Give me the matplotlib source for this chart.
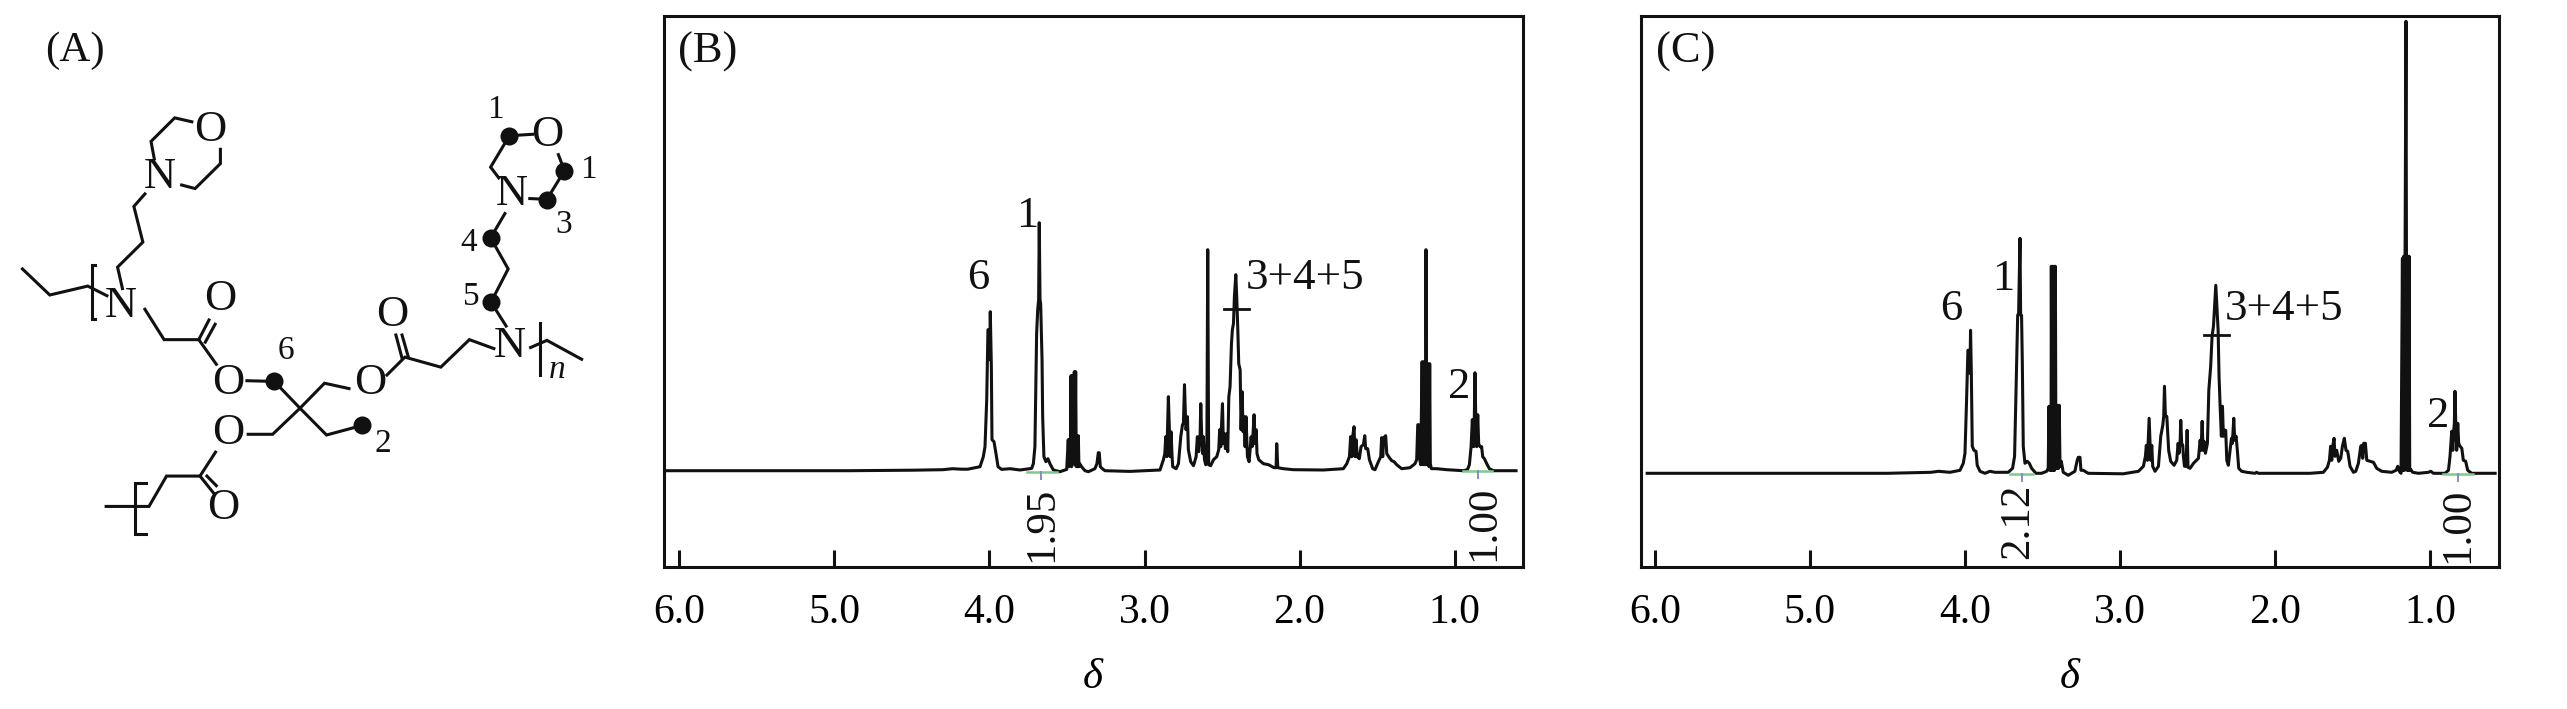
import matplotlib
matplotlib.use("Agg")
import matplotlib.pyplot as plt

plt.rcParams["font.family"] = ["Liberation Serif", "DejaVu Serif"]

W, H = 2567, 709
INK = "#111111"

# ---- spectrum (B): chemical shift and intensity (baseline = 0)
ppm_b = [6.08, 4.9, 4.5, 4.3, 4.24, 4.18, 4.14, 4.061, 4.040, 4.029, 4.018, 4.010, 4.003, 3.999, 3.995, 3.988,
         3.984, 3.971, 3.958, 3.945, 3.922, 3.868, 3.803, 3.728, 3.717, 3.707, 3.696, 3.689, 3.683, 3.679, 3.674,
         3.670, 3.661, 3.657, 3.649, 3.636, 3.623, 3.610, 3.588, 3.545, 3.502, 3.492, 3.487, 3.483, 3.479, 3.474,
         3.470, 3.466, 3.461, 3.457, 3.453, 3.449, 3.444, 3.440, 3.436, 3.431, 3.427, 3.423, 3.418, 3.406, 3.384,
         3.362, 3.320, 3.307, 3.298, 3.292, 3.285, 3.272, 3.255, 3.094, 2.900, 2.878, 2.869, 2.863, 2.856, 2.852,
         2.846, 2.839, 2.835, 2.829, 2.822, 2.818, 2.796, 2.781, 2.766, 2.755, 2.749, 2.742, 2.736, 2.732, 2.723,
         2.717, 2.702, 2.684, 2.667, 2.659, 2.650, 2.641, 2.637, 2.631, 2.624, 2.620, 2.613, 2.605, 2.598, 2.592,
         2.586, 2.573, 2.555, 2.534, 2.521, 2.515, 2.508, 2.504, 2.497, 2.491, 2.484, 2.478, 2.469, 2.463, 2.456,
         2.448, 2.439, 2.433, 2.426, 2.420, 2.411, 2.405, 2.398, 2.392, 2.383, 2.377, 2.370, 2.364, 2.358, 2.351,
         2.345, 2.336, 2.325, 2.312, 2.306, 2.299, 2.293, 2.287, 2.280, 2.274, 2.263, 2.233, 2.200, 2.164, 2.151,
         2.147, 2.140, 2.104, 2.039, 1.846, 1.717, 1.695, 1.678, 1.670, 1.663, 1.657, 1.648, 1.642, 1.635, 1.627,
         1.614, 1.603, 1.588, 1.579, 1.573, 1.560, 1.549, 1.528, 1.513, 1.491, 1.476, 1.470, 1.463, 1.457, 1.444,
         1.437, 1.420, 1.405, 1.390, 1.373, 1.341, 1.287, 1.255, 1.244, 1.237, 1.231, 1.224, 1.218, 1.209, 1.203,
         1.197, 1.190, 1.186, 1.184, 1.181, 1.177, 1.171, 1.164, 1.160, 1.156, 1.149, 1.115, 1.050, 0.943, 0.917,
         0.904, 0.893, 0.885, 0.876, 0.872, 0.868, 0.863, 0.857, 0.850, 0.844, 0.835, 0.825, 0.818, 0.807, 0.792,
         0.775, 0.749, 0.603]
int_b = [0, 0, 0.5, 1, 2, 1.5, 1.5, 4, 14, 24, 71, 141, 141, 111, 159, 104,
         31, 29, 17, 4, 1.3, 2, 0.7, 2.3, 7, 24, 137, 161, 171, 248, 171,
         167, 111, 54, 14, 9, 12, 7, 0.7, -1, 1.3, 31, 4, 31, 7, 95,
         4, 95, 7, 31, 99, 6, 99, 4, 35, 4, 35, 4, 7, 4, 0,
         -1, 2, 7, 18, 18, 4, 2, 0, -0.7, 0.7, 11, 17, 34, 14, 37,
         74, 39, 14, 39, 14, 4, 2, 7, 34, 46, 47, 86, 56, 41, 54,
         21, 9, 5, 14, 34, 19, 37, 67, 34, 17, 34, 11, 6, 7, 221,
         6, 5, 11, 14, 21, 41, 24, 42, 67, 27, 37, 22, 37, 19, 74,
         84, 127, 141, 147, 174, 196, 174, 141, 107, 101, 41, 79, 39, 54, 24,
         54, 14, 9, 34, 24, 39, 56, 27, 41, 17, 11, 7, 6, 3, 3,
         27, 3, 2, 1, 0.7, 2, 7, 14, 34, 14, 34, 44, 14, 31, 14,
         12, 24, 26, 35, 22, 22, 11, 2, 1, 9, 14, 33, 14, 33, 35,
         17, 13, 10, 9, 6, 2, 3, 7, 11, 46, 46, 11, 6, 109, 6,
         109, 6, 109, 221, 109, 6, 107, 4, 107, 7, 2, 2, 1, 0, 1,
         6, 24, 51, 24, 54, 98, 54, 24, 56, 27, 24, 24, 14, 12, 7,
         2, 0, 0]

# ---- spectrum (C)
ppm_c = [6.05, 4.9, 4.5, 4.22, 4.17, 4.13, 4.097, 4.032, 4.011, 4.000, 3.989, 3.981, 3.972, 3.968, 3.964, 3.959,
         3.953, 3.942, 3.929, 3.921, 3.903, 3.871, 3.839, 3.807, 3.774, 3.721, 3.693, 3.680, 3.667, 3.660, 3.654,
         3.645, 3.641, 3.635, 3.630, 3.624, 3.613, 3.598, 3.585, 3.570, 3.542, 3.506, 3.473, 3.463, 3.458, 3.454,
         3.450, 3.445, 3.443, 3.439, 3.435, 3.430, 3.426, 3.422, 3.417, 3.413, 3.409, 3.404, 3.400, 3.396, 3.392,
         3.387, 3.379, 3.366, 3.334, 3.291, 3.276, 3.269, 3.258, 3.252, 3.237, 3.205, 2.979, 2.881, 2.849, 2.836,
         2.830, 2.823, 2.819, 2.812, 2.806, 2.802, 2.795, 2.789, 2.774, 2.752, 2.737, 2.724, 2.718, 2.713, 2.707,
         2.698, 2.686, 2.673, 2.651, 2.634, 2.625, 2.619, 2.612, 2.608, 2.602, 2.595, 2.591, 2.584, 2.574, 2.567,
         2.561, 2.548, 2.526, 2.494, 2.483, 2.477, 2.470, 2.464, 2.458, 2.449, 2.436, 2.427, 2.415, 2.406, 2.397,
         2.391, 2.382, 2.374, 2.367, 2.361, 2.354, 2.346, 2.339, 2.333, 2.326, 2.318, 2.311, 2.301, 2.290, 2.281,
         2.275, 2.266, 2.260, 2.251, 2.243, 2.234, 2.215, 2.182, 2.129, 2.118, 2.107, 1.774, 1.688, 1.662, 1.649,
         1.641, 1.634, 1.628, 1.619, 1.613, 1.602, 1.589, 1.576, 1.565, 1.553, 1.542, 1.531, 1.516, 1.494, 1.479,
         1.462, 1.447, 1.441, 1.434, 1.428, 1.417, 1.408, 1.387, 1.365, 1.344, 1.312, 1.247, 1.219, 1.208, 1.198,
         1.187, 1.178, 1.174, 1.170, 1.165, 1.161, 1.155, 1.152, 1.148, 1.144, 1.140, 1.135, 1.131, 1.125, 1.112,
         1.075, 1.010, 0.995, 0.978, 0.903, 0.881, 0.871, 0.860, 0.853, 0.847, 0.843, 0.839, 0.834, 0.828, 0.821,
         0.815, 0.806, 0.795, 0.785, 0.770, 0.757, 0.731, 0.580]
int_c = [0, 0, 0, 1, 2, 1.5, 1, 3, 10, 20, 77, 123, 123, 100, 143, 100,
         27, 23, 22, 8, 2, 0, 2, 1, 1, 1, 5, 17, 110, 158, 160,
         235, 158, 158, 110, 27, 10, 12, 10, 5, 0, 0, 2, 5, 67, 3,
         67, 3, 207, 3, 207, 3, 207, 3, 207, 5, 68, 5, 68, 5, 68,
         7, 12, 1, -2, 2, 13, 16, 16, 3, 3, 0, -0.5, 2, 7, 17,
         28, 13, 28, 55, 28, 13, 28, 7, 2, 7, 37, 48, 57, 87, 57,
         57, 23, 12, 8, 13, 30, 20, 32, 53, 30, 28, 17, 7, 7, 43,
         6, 5, 10, 15, 33, 23, 52, 23, 32, 20, 30, 83, 107, 137, 147,
         163, 188, 163, 143, 97, 67, 37, 67, 37, 43, 43, 13, 8, 23, 35,
         30, 55, 33, 37, 23, 5, 2, 1, 0, 1, 0, 0, 1, 6, 13,
         27, 13, 27, 35, 17, 23, 12, 15, 27, 35, 23, 22, 7, 1, 2,
         10, 27, 28, 15, 30, 30, 13, 12, 11, 5, 2, 1, 3, 7, 2,
         0, 215, 3, 217, 3, 217, 452, 217, 3, 217, 3, 217, 3, 4, 1,
         0, 1, 2, 0, 0, 3, 17, 42, 23, 43, 50, 82, 50, 23, 50,
         30, 27, 25, 13, 12, 3, 0, 0]

tick_ppm = [6.0, 5.0, 4.0, 3.0, 2.0, 1.0]
tick_labels = ["6.0", "5.0", "4.0", "3.0", "2.0", "1.0"]


def px_axes(fig, left, top, right, bottom):
    return fig.add_axes([left / W, 1 - bottom / H, (right - left) / W, (bottom - top) / H])


def spectrum(fig, box, xlim, ylim, x, y):
    ax = px_axes(fig, *box)
    ax.plot(x, y, color=INK, lw=2.2, solid_joinstyle="round")
    ax.set_xlim(*xlim)
    ax.set_ylim(*ylim)
    ax.set_xticks(tick_ppm)
    ax.set_xticklabels(tick_labels, fontsize=30)
    ax.set_yticks([])
    ax.tick_params(axis="x", direction="in", length=12, width=2.2, pad=19, color=INK)
    for s in ax.spines.values():
        s.set_linewidth(2.2)
        s.set_color(INK)
    ax.set_xlabel(r"$\delta$", fontsize=31, labelpad=19)
    return ax


fig = plt.figure(figsize=(W / 100, H / 100), dpi=100)
plt.rcParams["mathtext.fontset"] = "custom"
plt.rcParams["mathtext.it"] = "Liberation Serif:italic"
plt.rcParams["mathtext.rm"] = "Liberation Serif"

spectrum(fig, (664, 16, 1522.7, 567), (6.10, 0.56), (-96.3, 454.7), ppm_b, int_b)
spectrum(fig, (1641, 16, 2499, 567), (6.09, 0.555), (-93.7, 457.3), ppm_c, int_c)

# ---- page overlay in pixels: panel letters, peak labels, integrals
page = fig.add_axes([0, 0, 1, 1])
page.set_xlim(0, W)
page.set_ylim(H, 0)
page.axis("off")
page.patch.set_alpha(0)

page_labels = [("(B)", 708, 52), ("(C)", 1686, 52), ("6", 978, 278), ("1", 1027, 216), ("2", 1459, 387),
               ("6", 1951, 309), ("1", 2003, 279), ("2", 2438, 416)]
for s, x, y in page_labels:
    page.text(x, y, s, fontsize=32, ha="center", va="center", color=INK)
page.text(1246, 278, "3+4+5", fontsize=32.5, ha="left", va="center", color=INK)
page.text(2225, 309, "3+4+5", fontsize=32.5, ha="left", va="center", color=INK)

integral_values = [("1.95", 1042, 524), ("1.00", 1484, 523), ("2.12", 2018, 521), ("1.00", 2458, 525)]
for s, x, y in integral_values:
    page.text(x, y, s, fontsize=31, rotation=90, ha="center", va="center", color=INK)

for x0, x1, y in [(1027, 1057, 472), (1463, 1492, 471), (2010, 2033, 474), (2443, 2473, 474)]:
    page.plot([x0, x1], [y, y], color="#7fc98a", lw=1.8, zorder=1)
for x, y in [(1041, 472), (1478, 471), (2022, 474), (2458, 474)]:
    page.plot([x, x], [y, y + 7], color="#8888cc", lw=1.4, zorder=1)
for x0, x1, y in [(1224, 1249, 309), (2204, 2229, 335)]:
    page.plot([x0, x1], [y, y], color=INK, lw=2)

# ---- structure (A): drawn in its own box, 640x560 px on the page
mol = px_axes(fig, 0, 0, 640, 560)
mol.set_xlim(0, 1568)
mol.set_ylim(1560, -8)
mol.axis("off")
mol.patch.set_alpha(0)

bonds = [
    [(470, 333), (428, 322), (370, 388), (378, 437)],
    [(540, 410), (540, 450), (478, 520), (445, 510)],
    [(355, 535), (328, 570), (350, 670), (288, 740), (300, 800)],
    [(55, 745), (122, 818), (215, 793), (262, 820)],
    [(232, 735), (225, 735), (225, 885), (232, 885)],
    [(355, 858), (402, 943), (487, 943), (530, 1012)],
    [(487, 943), (512, 888)],
    [(503, 950), (527, 900)],
    [(605, 1058), (672, 1060), (735, 1135), (800, 1210), (888, 1183)],
    [(855, 1080), (795, 1065), (735, 1135), (668, 1208), (608, 1208)],
    [(948, 1042), (992, 992), (1080, 1020), (1150, 943), (1210, 968)],
    [(985, 995), (970, 930)],
    [(1000, 990), (985, 930)],
    [(1240, 905), (1203, 838), (1245, 745), (1202, 658), (1237, 590)],
    [(1305, 368), (1248, 372), (1202, 460), (1222, 490)],
    [(1368, 425), (1383, 470), (1340, 550), (1298, 548)],
    [(1322, 895), (1322, 1042)],
    [(1300, 965), (1340, 945), (1425, 998)],
    [(528, 1258), (490, 1325), (408, 1325), (365, 1410), (260, 1410)],
    [(490, 1325), (525, 1375)],
    [(507, 1325), (530, 1352)],
    [(358, 1345), (330, 1345), (330, 1488), (358, 1488)],
]
for b in bonds:
    mol.plot([p[0] for p in b], [p[1] for p in b], color=INK, lw=2.2, solid_joinstyle="miter")

dots = [(1247, 372), (1383, 470), (1340, 552), (1202, 658), (1203, 838), (672, 1060), (888, 1183)]
mol.plot([p[0] for p in dots], [p[1] for p in dots], "o", color=INK, ms=13, mew=0)

atoms = [("O", 515, 355), ("N", 392, 488), ("N", 295, 850), ("O", 540, 830), ("O", 560, 1065), ("O", 560, 1205),
         ("O", 908, 1065), ("O", 962, 875), ("N", 1250, 960), ("N", 1255, 535), ("O", 1340, 370), ("O", 548, 1415)]
for s, x, y in atoms:
    mol.text(x, y, s, fontsize=32, ha="center", va="center", color=INK)

positions = [("1", 1215, 298), ("1", 1442, 468), ("3", 1380, 622), ("4", 1148, 672), ("5", 1155, 822),
             ("6", 700, 975), ("2", 938, 1235)]
for s, x, y in positions:
    mol.text(x, y, s, fontsize=24, ha="center", va="center", color=INK)
mol.text(1365, 1028, "n", fontsize=24, style="italic", ha="center", va="center", color=INK)
mol.text(183, 135, "(A)", fontsize=31, ha="center", va="center", color=INK)

fig.savefig("out.png", dpi=100)
